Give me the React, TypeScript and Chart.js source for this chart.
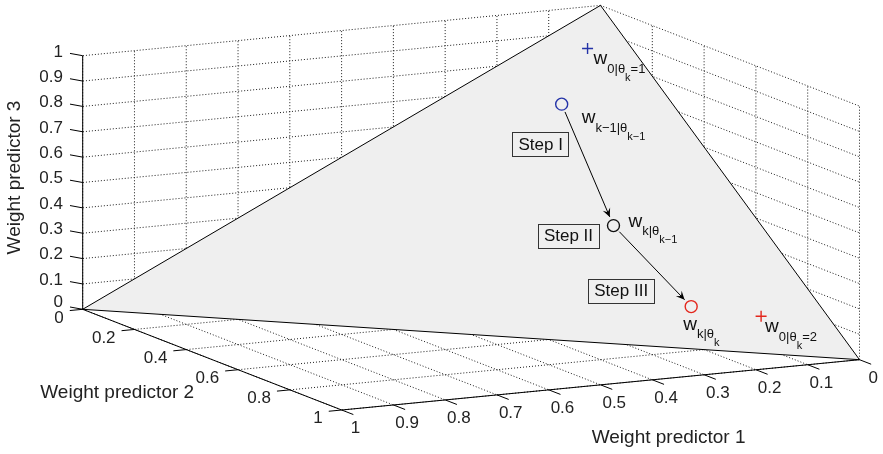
import React, { useEffect, useRef } from "react";
import { Chart, registerables } from "chart.js";

Chart.register(...registerables);

// ---------------- data ----------------
const predictor1Ticks = [0, 0.1, 0.2, 0.3, 0.4, 0.5, 0.6, 0.7, 0.8, 0.9, 1];
const predictor1TickLabels = ["0", "0.1", "0.2", "0.3", "0.4", "0.5", "0.6", "0.7", "0.8", "0.9", "1"];
const predictor2Ticks = [0, 0.2, 0.4, 0.6, 0.8, 1];
const predictor2TickLabels = ["0", "0.2", "0.4", "0.6", "0.8", "1"];
const predictor3Ticks = [0, 0.1, 0.2, 0.3, 0.4, 0.5, 0.6, 0.7, 0.8, 0.9, 1];
const predictor3TickLabels = ["0", "0.1", "0.2", "0.3", "0.4", "0.5", "0.6", "0.7", "0.8", "0.9", "1"];

const axisTitles = ["Weight predictor 1", "Weight predictor 2", "Weight predictor 3"];

// simplex corners (weight 1, weight 2, weight 3)
const simplexW1 = [1, 0, 0];
const simplexW2 = [0, 1, 0];
const simplexW3 = [0, 0, 1];

// weight vectors shown on the simplex
const pointW1 = [0.06, 0.15, 0.2, 0.175, 0.09];
const pointW2 = [0.07, 0.15, 0.45, 0.7, 0.8];
const pointW3 = [0.87, 0.7, 0.35, 0.125, 0.11];
const pointMarker = ["cross", "circle", "circle", "circle", "cross"];
const labelSub = ["0|θ", "k−1|θ", "k|θ", "k|θ", "0|θ"];
const labelSubSub = ["k", "k−1", "k−1", "k", "k"];
const labelTail = ["=1", "", "", "", "=2"];

// arrows between points (indices)
const arrowFrom = [1, 2];
const arrowTo = [2, 3];
const stepLabels = ["Step I", "Step II", "Step III"];
const stepAnchor = [1, 2, 3];

// ---------------- styles / view ----------------
const W = 883;
const H = 454;
const FONT = '"Liberation Sans", Arial, Helvetica, sans-serif';
const VIEW = {
  origin: [600.5, 259],
  e1: [-517.8, 50.3],
  e2: [259, 100.7],
  e3: [0, -253.6],
};
const markerColors = ["#2433a8", "#2433a8", "#111111", "#e3261c", "#e3261c"];
const labelOffsets = [[6, 16], [20, 19], [15, 1], [-8, 23], [4, 16]];
const stepOffsets = [[-21, 40], [-45, 10], [-70, -16]];
const TEXT = "#222222";

function proj(a: number, b: number, c: number) {
  return {
    x: VIEW.origin[0] + a * VIEW.e1[0] + b * VIEW.e2[0] + c * VIEW.e3[0],
    y: VIEW.origin[1] + a * VIEW.e1[1] + b * VIEW.e2[1] + c * VIEW.e3[1],
  };
}

function buildDatasets() {
  const ds: any[] = [];
  const dotted = {
    borderColor: "#1a1a1a",
    borderWidth: 1,
    borderDash: [1, 2],
    pointRadius: 0,
    showLine: true,
    fill: false,
    order: 20,
    clip: false,
  };
  const solid = {
    borderColor: "#000000",
    borderWidth: 1,
    pointRadius: 0,
    showLine: true,
    fill: false,
    order: 5,
    clip: false,
  };
  const seg = (a: number[], b: number[], style: any) =>
    ds.push({ data: [proj(a[0], a[1], a[2]), proj(b[0], b[1], b[2])], ...style });

  // back wall (weight 2 = 0)
  predictor3Ticks.forEach((t) => seg([0, 0, t], [1, 0, t], dotted));
  predictor1Ticks.forEach((t) => seg([t, 0, 0], [t, 0, 1], dotted));
  // side wall (weight 1 = 0)
  predictor3Ticks.forEach((t) => seg([0, 0, t], [0, 1, t], dotted));
  predictor2Ticks.forEach((t) => seg([0, t, 0], [0, t, 1], dotted));
  // floor (weight 3 = 0)
  predictor1Ticks.forEach((t) => seg([t, 0, 0], [t, 1, 0], dotted));
  predictor2Ticks.forEach((t) => seg([0, t, 0], [1, t, 0], dotted));

  // simplex triangle
  const A = proj(simplexW1[0], simplexW1[1], simplexW1[2]);
  const B = proj(simplexW2[0], simplexW2[1], simplexW2[2]);
  const C = proj(simplexW3[0], simplexW3[1], simplexW3[2]);
  ds.push({
    data: [A, B, C, A],
    showLine: true,
    fill: "shape",
    backgroundColor: "#efefef",
    borderColor: "#000000",
    borderWidth: 1,
    pointRadius: 0,
    order: 10,
    clip: false,
  });

  // axes
  seg([0, 1, 0], [1, 1, 0], solid);
  seg([1, 0, 0], [1, 1, 0], solid);
  seg([1, 0, 0], [1, 0, 1], solid);
  predictor1Ticks.forEach((t) => seg([t, 1, 0], [t, 1.045, 0], solid));
  predictor2Ticks.forEach((t) => seg([1, t, 0], [1.025, t, 0], solid));
  predictor3Ticks.forEach((t) => seg([1, 0, t], [1.0105, -0.0281, t], solid));

  // arrows (shafts)
  arrowFrom.forEach((f, i) => {
    const p = proj(pointW1[f], pointW2[f], pointW3[f]);
    const q = proj(pointW1[arrowTo[i]], pointW2[arrowTo[i]], pointW3[arrowTo[i]]);
    const dx = q.x - p.x;
    const dy = q.y - p.y;
    const L = Math.hypot(dx, dy);
    const ux = dx / L;
    const uy = dy / L;
    ds.push({
      data: [
        { x: p.x + ux * 8.5, y: p.y + uy * 8.5 },
        { x: q.x - ux * 9.5, y: q.y - uy * 9.5 },
      ],
      ...solid,
      order: 3,
    });
  });

  // markers
  pointW1.forEach((_, i) => {
    ds.push({
      data: [proj(pointW1[i], pointW2[i], pointW3[i])],
      pointStyle: pointMarker[i],
      pointRadius: pointMarker[i] === "cross" ? 5.5 : 6,
      pointBorderWidth: 1.4,
      borderColor: markerColors[i],
      backgroundColor: "rgba(0,0,0,0)",
      pointBackgroundColor: "rgba(0,0,0,0)",
      pointBorderColor: markerColors[i],
      showLine: false,
      order: 1,
      clip: false,
    });
  });
  return ds;
}

const overlay = {
  id: "overlay",
  afterDatasetsDraw(chart: any) {
    const ctx: CanvasRenderingContext2D = chart.ctx;
    const sx = chart.scales.x;
    const sy = chart.scales.y;
    const pix = (a: number, b: number, c: number) => {
      const p = proj(a, b, c);
      return { x: sx.getPixelForValue(p.x), y: sy.getPixelForValue(p.y) };
    };
    ctx.save();
    ctx.fillStyle = TEXT;

    // tick labels
    ctx.font = `17px ${FONT}`;
    ctx.textBaseline = "middle";
    ctx.textAlign = "right";
    predictor3Ticks.forEach((t, i) => {
      const e = pix(1.0105, -0.0281, t);
      ctx.fillText(predictor3TickLabels[i], e.x - 7, e.y - (i === 0 ? 4.5 : 1.5));
    });
    predictor2Ticks.forEach((t, i) => {
      const e = pix(1.025, t, 0);
      ctx.fillText(predictor2TickLabels[i], e.x - 6, e.y + 7.5);
    });
    ctx.textAlign = "center";
    predictor1Ticks.forEach((t, i) => {
      const e = pix(t, 1.045, 0);
      ctx.fillText(predictor1TickLabels[i], e.x + 2, e.y + 14);
    });

    // axis titles
    ctx.font = `19px ${FONT}`;
    const t1 = pix(0.5, 1, 0);
    ctx.fillText(axisTitles[0], t1.x + 68, t1.y + 53);
    const t2 = pix(1, 0.5, 0);
    ctx.fillText(axisTitles[1], t2.x - 95, t2.y + 33);
    const t3 = pix(1, 0, 0.5);
    ctx.save();
    ctx.translate(t3.x - 68, t3.y - 5);
    ctx.rotate(-Math.PI / 2);
    ctx.fillText(axisTitles[2], 0, 0);
    ctx.restore();

    // arrow heads
    ctx.fillStyle = "#000";
    arrowFrom.forEach((f, i) => {
      const p = pix(pointW1[f], pointW2[f], pointW3[f]);
      const q = pix(pointW1[arrowTo[i]], pointW2[arrowTo[i]], pointW3[arrowTo[i]]);
      const dx = q.x - p.x;
      const dy = q.y - p.y;
      const L = Math.hypot(dx, dy);
      const ux = dx / L;
      const uy = dy / L;
      const tx = q.x - ux * 9.5;
      const ty = q.y - uy * 9.5;
      const hl = 8.5;
      const hw = 4;
      ctx.beginPath();
      ctx.moveTo(tx, ty);
      ctx.lineTo(tx - ux * hl - uy * hw, ty - uy * hl + ux * hw);
      ctx.lineTo(tx - ux * hl * 0.6, ty - uy * hl * 0.6);
      ctx.lineTo(tx - ux * hl + uy * hw, ty - uy * hl - ux * hw);
      ctx.closePath();
      ctx.fill();
    });

    // point labels with subscripts
    ctx.fillStyle = "#111";
    ctx.textAlign = "left";
    ctx.textBaseline = "alphabetic";
    pointW1.forEach((_, i) => {
      const p = pix(pointW1[i], pointW2[i], pointW3[i]);
      let x = p.x + labelOffsets[i][0];
      const y = p.y + labelOffsets[i][1];
      const parts: [string, number, number][] = [
        ["w", 19, 0],
        [labelSub[i], 13, 8.5],
        [labelSubSub[i], 11, 16.5],
        [labelTail[i], 13, 8.5],
      ];
      parts.forEach(([txt, size, dy]) => {
        if (!txt) return;
        ctx.font = `${size}px ${FONT}`;
        ctx.fillText(txt, x, y + dy);
        x += ctx.measureText(txt).width;
      });
    });

    // step boxes
    ctx.font = `17px ${FONT}`;
    ctx.textAlign = "center";
    ctx.textBaseline = "middle";
    stepLabels.forEach((s, i) => {
      const a = stepAnchor[i];
      const p = pix(pointW1[a], pointW2[a], pointW3[a]);
      const cx = p.x + stepOffsets[i][0];
      const cy = p.y + stepOffsets[i][1];
      const w = ctx.measureText(s).width + 12;
      const h = 24;
      ctx.strokeStyle = "#333";
      ctx.lineWidth = 1;
      ctx.strokeRect(Math.round(cx - w / 2) + 0.5, Math.round(cy - h / 2) + 0.5, Math.round(w), h);
      ctx.fillStyle = "#111";
      ctx.fillText(s, cx, cy + 1);
    });
    ctx.restore();
  },
};

export default function App() {
  const ref = useRef<HTMLCanvasElement | null>(null);
  useEffect(() => {
    document.body.style.margin = "0";
    const chart = new Chart(ref.current as HTMLCanvasElement, {
      type: "scatter",
      data: { datasets: buildDatasets() },
      options: {
        animation: false,
        responsive: false,
        devicePixelRatio: 1,
        events: [],
        layout: { padding: 0, autoPadding: false },
        plugins: { legend: { display: false }, tooltip: { enabled: false } },
        scales: {
          x: { type: "linear", min: 0, max: W, display: false },
          y: { type: "linear", min: 0, max: H, reverse: true, display: false },
        },
      },
      plugins: [overlay],
    } as any);
    return () => chart.destroy();
  }, []);
  return (
    <div style={{ position: "absolute", left: 0, top: 0, width: W, height: H, background: "#fff" }}>
      <canvas ref={ref} width={W} height={H} style={{ width: W, height: H, display: "block" }} />
    </div>
  );
}
